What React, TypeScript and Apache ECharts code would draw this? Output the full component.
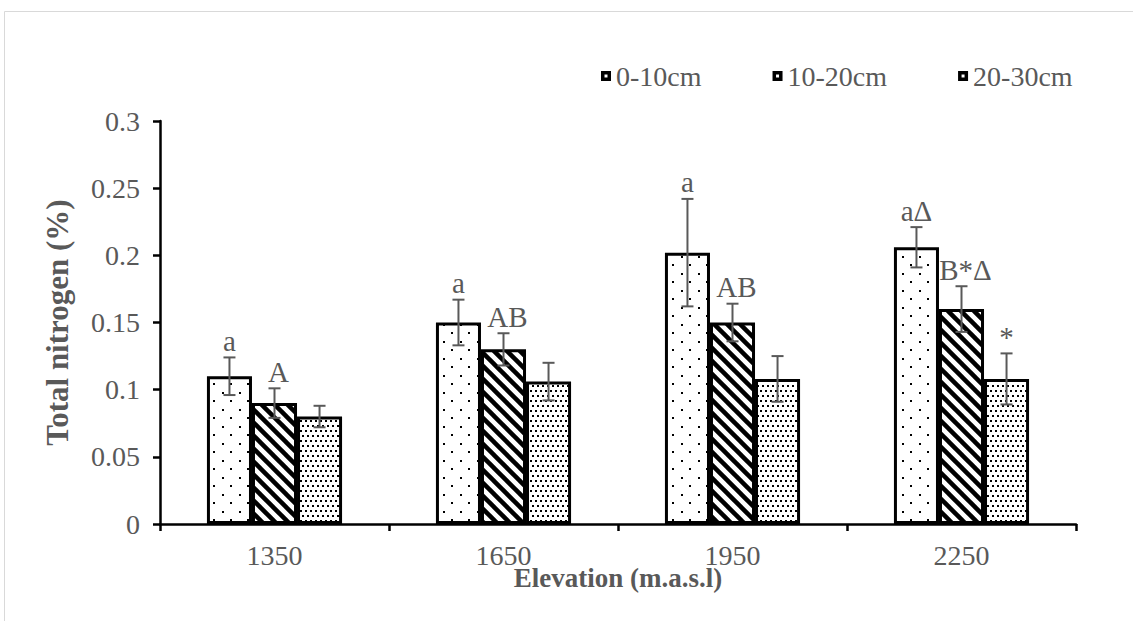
import React, { useEffect, useRef } from 'react';
import * as echarts from 'echarts';

const categories = ['1350', '1650', '1950', '2250'];
const seriesNames = ['0-10cm', '10-20cm', '20-30cm'];

const values0 = [0.110, 0.150, 0.202, 0.206];
const values1 = [0.090, 0.130, 0.150, 0.160];
const values2 = [0.080, 0.106, 0.108, 0.108];

const errors0 = [0.014, 0.017, 0.040, 0.015];
const errors1 = [0.011, 0.012, 0.014, 0.017];
const errors2 = [0.008, 0.014, 0.017, 0.019];

const labels0 = ['a', 'a', 'a', 'aΔ'];
const labels1 = ['A', 'AB', 'AB', 'B*Δ'];
const labels2 = ['', '', '', '*'];

const yMin = 0;
const yMax = 0.3;
const yInterval = 0.05;

const FONT = 'Liberation Serif';
const GRAY = '#595959';
const CAT_GAP = 0.41;

function makePattern(kind: string) {
  const c = document.createElement('canvas');
  let w = 17, h = 17;
  if (kind === 'stripes') { w = 13; h = 13; }
  if (kind === 'dense') { w = 10; h = 10; }
  c.width = w; c.height = h;
  const ctx = c.getContext('2d')!;
  ctx.fillStyle = '#ffffff';
  ctx.fillRect(0, 0, w, h);
  ctx.fillStyle = '#000000';
  if (kind === 'sparse') {
    ctx.fillRect(1, 1, 2, 2);
    ctx.fillRect(9, 9, 2, 2);
  } else if (kind === 'dense') {
    ctx.fillRect(0, 0, 2, 2);
    ctx.fillRect(5, 0, 2, 2);
    ctx.fillRect(2, 5, 2, 2);
    ctx.fillRect(7, 5, 2, 2);
  } else {
    ctx.strokeStyle = '#000000';
    ctx.lineWidth = 4.5;
    for (const off of [-w, 0, w]) {
      ctx.beginPath();
      ctx.moveTo(-3, -3 + off);
      ctx.lineTo(w + 3, h + 3 + off);
      ctx.stroke();
    }
  }
  return { image: c.toDataURL(), imageWidth: w, imageHeight: h, repeat: 'repeat' };
}

export default function App() {
  const ref = useRef<HTMLDivElement>(null);
  useEffect(() => {
    if (!ref.current) return;
    const chart = echarts.init(ref.current, undefined, { renderer: 'svg' });
    const patterns = [makePattern('sparse'), makePattern('stripes'), makePattern('dense')];
    const valueSets = [values0, values1, values2];
    const errorSets = [errors0, errors1, errors2];
    const labelSets = [labels0, labels1, labels2];

    const barSeries = seriesNames.map((name, s) => ({
      type: 'bar',
      name,
      data: valueSets[s],
      barGap: '0%',
      barCategoryGap: '41%',
      itemStyle: { color: patterns[s] as any, borderColor: '#000', borderWidth: 3 },
      z: 2,
    }));

    const errSeries = seriesNames.map((name, s) => ({
      type: 'custom',
      name: 'err-' + name,
      silent: true,
      z: 10,
      data: valueSets[s].map((v, i) => [i, v, errorSets[s][i]]),
      renderItem: (params: any, api: any) => {
        const i = api.value(0);
        const v = api.value(1);
        const e = api.value(2);
        const band = api.size([1, 0])[0];
        const bw = (band * (1 - CAT_GAP)) / 3;
        const c = api.coord([i, v]);
        const x = c[0] + (s - 1) * bw;
        const yt = api.coord([i, v + e])[1];
        const yb = api.coord([i, v - e])[1];
        const st = { stroke: GRAY, lineWidth: 2 };
        return {
          type: 'group',
          children: [
            { type: 'line', shape: { x1: x, y1: yt, x2: x, y2: yb }, style: st },
            { type: 'line', shape: { x1: x - 6, y1: yt, x2: x + 6, y2: yt }, style: st },
            { type: 'line', shape: { x1: x - 6, y1: yb, x2: x + 6, y2: yb }, style: st },
            {
              type: 'text',
              style: {
                text: labelSets[s][params.dataIndex],
                x: x + (s === 1 ? 4 : 0),
                y: yt - 2,
                align: 'center',
                verticalAlign: 'bottom',
                fontFamily: FONT,
                fontSize: 29,
                fill: GRAY,
              },
            },
          ],
        };
      },
    }));

    chart.setOption({
      animation: false,
      backgroundColor: '#ffffff',
      graphic: [
        {
          type: 'rect',
          shape: { x: 4.5, y: 11.5, width: 1200, height: 700 },
          style: { fill: 'none', stroke: '#d9d9d9', lineWidth: 1 },
          silent: true,
          z: -10,
        },
      ],
      legend: {
        data: seriesNames,
        left: 601,
        top: 62,
        padding: 0,
        itemWidth: 10,
        itemHeight: 10,
        itemGap: 71,
        icon: 'path://M0 0H10V10H0Z M3.5 3.5V6.5H6.5V3.5Z',
        itemStyle: { color: '#000', borderWidth: 0 },
        textStyle: { fontFamily: FONT, fontSize: 28, color: GRAY },
      },
      grid: { left: 160, right: 57, top: 121, bottom: 97 },
      xAxis: {
        type: 'category',
        data: categories,
        name: 'Elevation (m.a.s.l)',
        nameLocation: 'middle',
        nameGap: 40,
        nameMoveOverlap: false,
        nameTextStyle: { fontFamily: FONT, fontSize: 27, fontWeight: 'bold', color: GRAY, verticalAlign: 'top' },
        axisLine: { lineStyle: { color: '#000', width: 2.5 } },
        axisTick: { show: true, length: 7, lineStyle: { color: '#000', width: 2.5 } },
        axisLabel: { fontFamily: FONT, fontSize: 28, color: GRAY, margin: 17 },
      },
      yAxis: {
        type: 'value',
        min: yMin,
        max: yMax,
        interval: yInterval,
        name: 'Total nitrogen (%)',
        nameLocation: 'middle',
        nameGap: 87,
        nameMoveOverlap: false,
        nameTextStyle: { fontFamily: FONT, fontSize: 31, fontWeight: 'bold', color: GRAY },
        axisLine: { show: true, lineStyle: { color: '#000', width: 2.5 } },
        axisTick: { show: true, length: 7, lineStyle: { color: '#000', width: 2.5 } },
        splitLine: { show: false },
        axisLabel: { fontFamily: FONT, fontSize: 28, color: GRAY, margin: 20 },
      },
      series: [...barSeries, ...errSeries],
    });
    return () => chart.dispose();
  }, []);
  return (
    <div
      ref={ref}
      style={{ position: 'fixed', left: 0, top: 0, width: 1133, height: 621, background: '#fff' }}
    />
  );
}
